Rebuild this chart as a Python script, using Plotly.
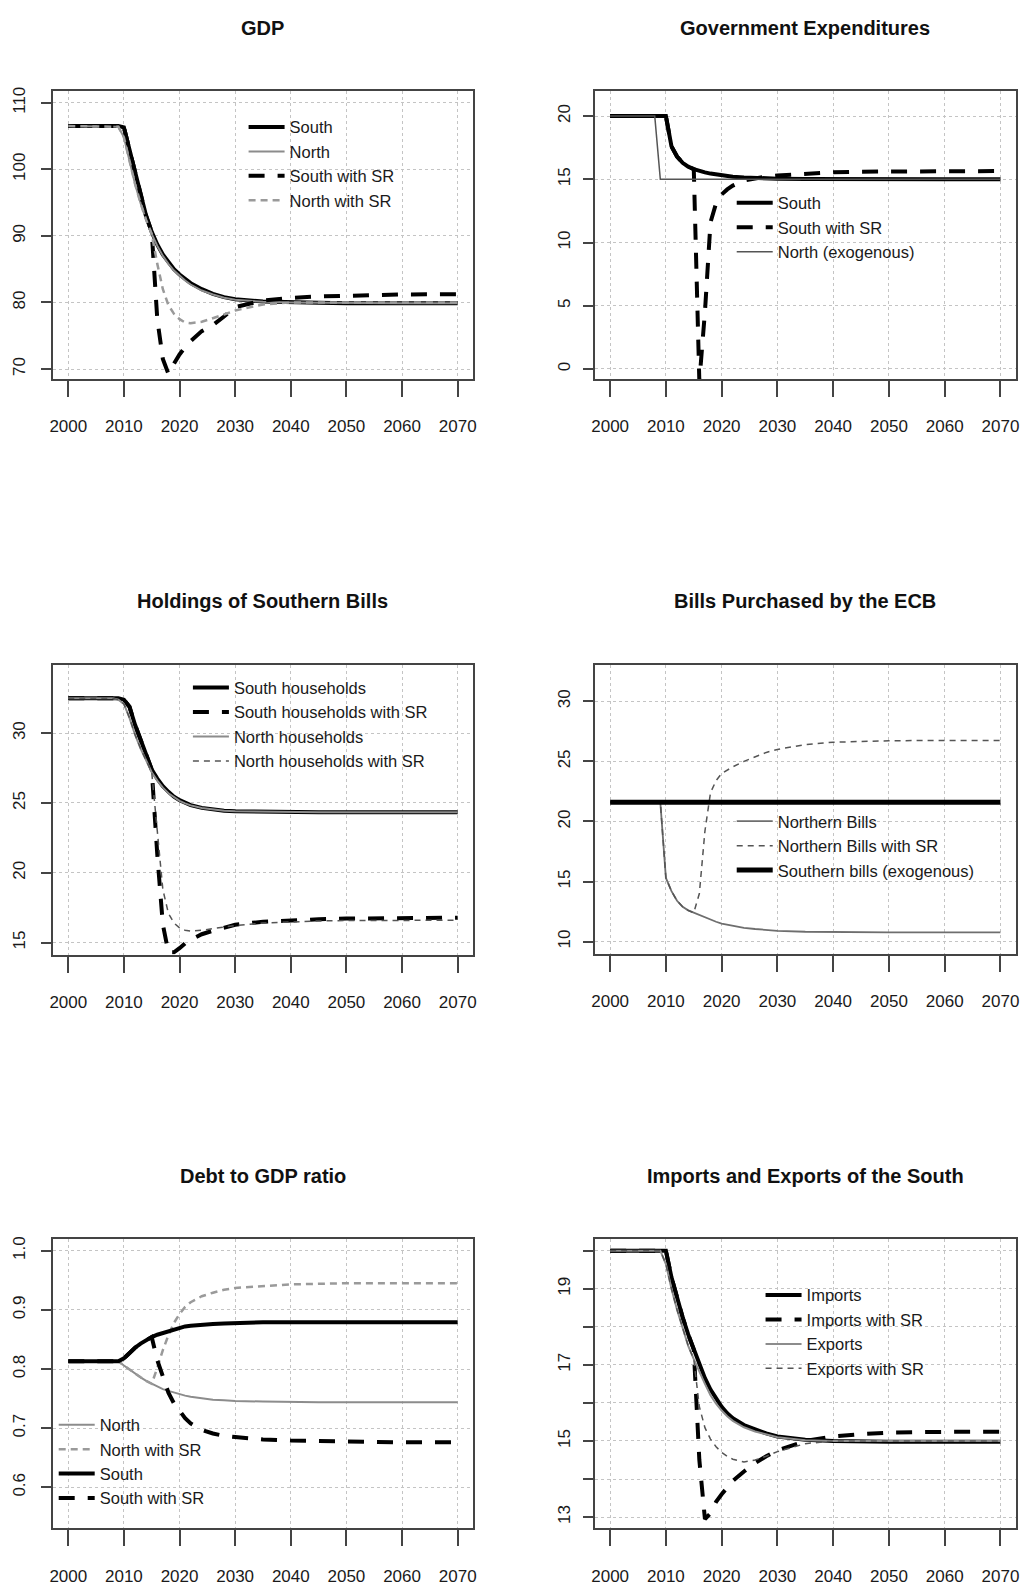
import plotly.graph_objects as go

# ---------------- data ----------------
YEARS = [2000, 2008, 2009, 2010, 2011, 2012, 2013, 2014, 2015, 2016, 2017, 2018, 2019,
         2020, 2021, 2022, 2024, 2026, 2028, 2030, 2035, 2040, 2045, 2050, 2060, 2070]
X_TICKS = [2000, 2010, 2020, 2030, 2040, 2050, 2060, 2070]

# GDP
gdp_south = [106.5, 106.5, 106.5, 106.3, 103.0, 99.2, 95.8, 93.0, 90.6, 88.7, 87.2, 86.0, 85.0,
             84.2, 83.5, 82.9, 82.0, 81.3, 80.8, 80.5, 80.15, 80.0, 79.95, 79.9, 79.9, 79.9]
gdp_north = [106.5, 106.5, 106.4, 104.8, 101.2, 97.8, 94.9, 92.4, 90.3, 88.5, 87.0, 85.8, 84.8,
             84.0, 83.3, 82.7, 81.8, 81.2, 80.7, 80.4, 80.1, 80.0, 79.95, 79.9, 79.9, 79.9]
gdp_south_sr = [106.5, 106.5, 106.5, 106.3, 103.0, 99.2, 95.8, 93.0, 90.6, 77.5, 71.5, 69.3, 70.8,
                72.2, 73.3, 74.2, 75.7, 76.6, 77.9, 79.3, 80.3, 80.7, 80.9, 81.05, 81.2, 81.25]
gdp_north_sr = [106.5, 106.5, 106.4, 104.8, 101.2, 97.8, 94.9, 92.4, 90.3, 85.8, 82.0, 79.6, 78.3,
                77.5, 77.0, 76.9, 77.1, 77.6, 78.2, 78.8, 79.7, 80.0, 80.0, 80.0, 80.0, 80.0]
gdp_ticks = [70, 80, 90, 100, 110]

# Government expenditures
gov_south = [20, 20, 20, 20, 17.6, 16.8, 16.3, 16.0, 15.8, 15.65, 15.55, 15.45, 15.37,
             15.3, 15.25, 15.2, 15.14, 15.1, 15.07, 15.05, 15.02, 15.0, 15.0, 15.0, 15.0, 15.0]
gov_south_sr = [20, 20, 20, 20, 17.6, 16.8, 16.3, 16.0, 15.8, -1.0, 4.5, 11.6, 13.1,
                13.8, 14.2, 14.5, 14.9, 15.1, 15.22, 15.3, 15.45, 15.55, 15.6, 15.62, 15.65, 15.65]
gov_north = [20, 20, 15, 15, 15, 15, 15, 15, 15, 15, 15, 15, 15,
             15, 15, 15, 15, 15, 15, 15, 15, 15, 15, 15, 15, 15]
gov_ticks = [0, 5, 10, 15, 20]

# Holdings of southern bills
hold_south = [32.5, 32.5, 32.5, 32.4, 31.9, 30.6, 29.5, 28.4, 27.4, 26.75, 26.2, 25.8, 25.45,
              25.2, 25.0, 24.85, 24.65, 24.52, 24.45, 24.4, 24.36, 24.34, 24.33, 24.33, 24.33, 24.33]
hold_south_sr = [32.5, 32.5, 32.5, 32.4, 31.9, 30.6, 29.5, 28.4, 27.4, 21.3, 16.3, 14.3, 14.3,
                 14.6, 14.95, 15.2, 15.6, 15.85, 16.1, 16.28, 16.5, 16.6, 16.67, 16.72, 16.76, 16.78]
hold_north = [32.5, 32.5, 32.4, 32.1, 31.1, 29.9, 28.9, 28.0, 27.2, 26.6, 26.1, 25.7, 25.4,
              25.15, 24.97, 24.83, 24.64, 24.52, 24.45, 24.4, 24.36, 24.34, 24.33, 24.33, 24.33, 24.33]
hold_north_sr = [32.5, 32.5, 32.4, 32.1, 31.1, 29.9, 28.9, 28.0, 27.2, 23.0, 18.8, 17.1, 16.4,
                 16.05, 15.88, 15.82, 15.88, 16.0, 16.12, 16.22, 16.4, 16.5, 16.55, 16.58, 16.6, 16.6]
hold_ticks = [15, 20, 25, 30]

# Bills purchased by the ECB
ecb_north = [21.6, 21.6, 21.6, 15.3, 14.2, 13.4, 12.9, 12.6, 12.4, 12.2, 12.0, 11.8, 11.65,
             11.5, 11.4, 11.3, 11.15, 11.05, 10.97, 10.9, 10.82, 10.79, 10.78, 10.77, 10.77, 10.77]
ecb_north_sr = [21.6, 21.6, 21.6, 15.3, 14.2, 13.4, 12.9, 12.6, 12.4, 14.0, 19.2, 22.4, 23.4,
                24.0, 24.3, 24.55, 25.0, 25.4, 25.75, 26.0, 26.4, 26.6, 26.68, 26.72, 26.75, 26.75]
ecb_south = [21.6] * len(YEARS)
ecb_ticks = [10, 15, 20, 25, 30]

# Debt to GDP ratio
debt_north = [0.813, 0.813, 0.813, 0.806, 0.799, 0.792, 0.786, 0.780, 0.775, 0.770, 0.766, 0.763, 0.760,
              0.757, 0.755, 0.753, 0.750, 0.748, 0.747, 0.746, 0.745, 0.744, 0.744, 0.744, 0.744, 0.744]
debt_north_sr = [0.813, 0.813, 0.813, 0.806, 0.799, 0.792, 0.786, 0.780, 0.775, 0.802, 0.832, 0.857, 0.878,
                 0.893, 0.905, 0.913, 0.923, 0.929, 0.934, 0.937, 0.940, 0.943, 0.944, 0.945, 0.945, 0.945]
debt_south = [0.813, 0.813, 0.813, 0.818, 0.828, 0.836, 0.843, 0.849, 0.854, 0.858, 0.861, 0.864, 0.867,
              0.870, 0.872, 0.873, 0.875, 0.876, 0.877, 0.878, 0.879, 0.879, 0.879, 0.879, 0.879, 0.879]
debt_south_sr = [0.813, 0.813, 0.813, 0.818, 0.828, 0.836, 0.843, 0.849, 0.854, 0.815, 0.785, 0.760, 0.742,
                 0.728, 0.717, 0.708, 0.697, 0.691, 0.687, 0.685, 0.681, 0.679, 0.678, 0.677, 0.676, 0.676]
debt_ticks = [0.6, 0.7, 0.8, 0.9, 1.0]
debt_ticktext = ["0.6", "0.7", "0.8", "0.9", "1.0"]

# Imports and exports of the South
imports = [20, 20, 20, 20, 19.3, 18.75, 18.25, 17.8, 17.4, 17.0, 16.65, 16.35, 16.1,
           15.9, 15.73, 15.6, 15.42, 15.3, 15.2, 15.12, 15.03, 15.0, 14.98, 14.98, 14.98, 14.98]
imports_sr = [20, 20, 20, 20, 19.3, 18.75, 18.25, 17.8, 17.4, 14.5, 12.95, 13.1, 13.4,
              13.6, 13.78, 13.95, 14.2, 14.42, 14.6, 14.75, 15.0, 15.12, 15.18, 15.22, 15.24, 15.24]
exports = [20, 20, 20, 19.65, 19.0, 18.45, 17.95, 17.5, 17.15, 16.8, 16.5, 16.2, 15.98,
           15.8, 15.65, 15.53, 15.36, 15.25, 15.17, 15.1, 15.02, 15.0, 15.0, 15.0, 15.0, 15.0]
exports_sr = [20, 20, 20, 19.65, 19.0, 18.45, 17.95, 17.5, 17.15, 15.9, 15.35, 15.05, 14.85,
              14.7, 14.6, 14.52, 14.45, 14.5, 14.6, 14.72, 14.93, 15.0, 15.0, 15.0, 15.0, 15.0]
imp_ticks = [13, 14, 15, 16, 17, 18, 19, 20]
imp_ticktext = ["13", "", "15", "", "17", "", "19", ""]

TITLES = ["GDP", "Government Expenditures", "Holdings of Southern Bills",
          "Bills Purchased by the ECB", "Debt to GDP ratio", "Imports and Exports of the South"]

# ---------------- styles ----------------
W, H = 1028, 1589
FONT = "Liberation Sans, Arial, sans-serif"

THICK = dict(color="#000000", width=4)
THICK_DASH = dict(color="#000000", width=4, dash="16px,13px")
GRAY = dict(color="#8c8c8c", width=2)
GRAY_DASH = dict(color="#9a9a9a", width=2.5, dash="7px,5px")
THIN = dict(color="#555555", width=1.5)
THIN_DASH = dict(color="#555555", width=1.5, dash="6px,5px")

def px_x(a, b):
    return [a / W, b / W]

def px_y(top, bottom):
    return [1 - bottom / H, 1 - top / H]

panels = [
    dict(xd=(50, 473), yd=(87, 376), yr=[68.5, 111.8], yt=gdp_ticks, ytt=[str(v) for v in gdp_ticks],
         leg=(242, 106), title_y=24, ysoff=9),
    dict(xd=(595, 1019), yd=(87, 376), yr=[-0.8, 22.0], yt=gov_ticks, ytt=[str(v) for v in gov_ticks],
         leg=(733, 182), title_y=24, ysoff=6),
    dict(xd=(50, 473), yd=(663, 953), yr=[14.14, 34.86], yt=hold_ticks, ytt=[str(v) for v in hold_ticks],
         leg=(186, 668), title_y=599, ysoff=9),
    dict(xd=(595, 1019), yd=(663, 952), yr=[9.0, 33.0], yt=ecb_ticks, ytt=[str(v) for v in ecb_ticks],
         leg=(733, 802), title_y=599, ysoff=6),
    dict(xd=(50, 473), yd=(1238, 1528), yr=[0.531, 1.020], yt=debt_ticks, ytt=debt_ticktext,
         leg=(51, 1407), title_y=1175, ysoff=9),
    dict(xd=(595, 1019), yd=(1238, 1528), yr=[12.71, 20.31], yt=imp_ticks, ytt=imp_ticktext,
         leg=(762, 1277), title_y=1175, ysoff=6),
]

series = [
    [("South", gdp_south, THICK), ("North", gdp_north, GRAY),
     ("South with SR", gdp_south_sr, THICK_DASH), ("North with SR", gdp_north_sr, GRAY_DASH)],
    [("South", gov_south, THICK), ("South with SR", gov_south_sr, THICK_DASH),
     ("North (exogenous)", gov_north, THIN)],
    [("South households", hold_south, THICK), ("South households with SR", hold_south_sr, THICK_DASH),
     ("North households", hold_north, GRAY), ("North households with SR", hold_north_sr, THIN_DASH)],
    [("Northern Bills", ecb_north, dict(color="#6e6e6e", width=1.8)),
     ("Northern Bills with SR", ecb_north_sr, THIN_DASH),
     ("Southern bills (exogenous)", ecb_south, dict(color="#000000", width=5))],
    [("North", debt_north, GRAY), ("North with SR", debt_north_sr, GRAY_DASH),
     ("South", debt_south, THICK), ("South with SR", debt_south_sr, THICK_DASH)],
    [("Imports", imports, THICK), ("Imports with SR", imports_sr, THICK_DASH),
     ("Exports", exports, GRAY), ("Exports with SR", exports_sr, THIN_DASH)],
]

fig = go.Figure()
layout = dict(
    width=W, height=H, margin=dict(l=0, r=0, t=0, b=0),
    paper_bgcolor="white", plot_bgcolor="white", showlegend=True,
    annotations=[],
)

for i, (p, ser) in enumerate(zip(panels, series)):
    n = i + 1
    xname = "xaxis" if n == 1 else f"xaxis{n}"
    yname = "yaxis" if n == 1 else f"yaxis{n}"
    xref = "x" if n == 1 else f"x{n}"
    yref = "y" if n == 1 else f"y{n}"
    legname = "legend" if n == 1 else f"legend{n}"
    for name, vals, style in ser:
        fig.add_trace(go.Scatter(x=YEARS, y=vals, mode="lines", name=name, line=style,
                                 xaxis=xref, yaxis=yref, legend=legname, hoverinfo="skip"))
    layout[xname] = dict(
        domain=px_x(*p["xd"]), anchor=yref, range=[1997.2, 2072.8],
        tickvals=X_TICKS, ticktext=[str(v) for v in X_TICKS],
        ticks="outside", ticklen=16, tickwidth=2, tickcolor="#444444",
        showline=True, mirror=True, linecolor="#444444", linewidth=2,
        showgrid=True, gridcolor="#c4c4c4", griddash="dot", gridwidth=1,
        zeroline=False, tickfont=dict(family=FONT, size=17, color="#1a1a1a"),
        ticklabelstandoff=15,
    )
    layout[yname] = dict(
        domain=px_y(*p["yd"]), anchor=xref, range=p["yr"],
        tickvals=p["yt"], ticktext=p["ytt"], tickangle=-90,
        ticks="outside", ticklen=10, tickwidth=2, tickcolor="#444444",
        showline=True, mirror=True, linecolor="#444444", linewidth=2,
        showgrid=True, gridcolor="#c4c4c4", griddash="dot", gridwidth=1,
        zeroline=False, tickfont=dict(family=FONT, size=17, color="#1a1a1a"),
        ticklabelstandoff=p["ysoff"],
    )
    lx, ly = p["leg"]
    layout[legname] = dict(
        x=lx / W, y=1 - ly / H, xanchor="left", yanchor="top",
        bgcolor="rgba(0,0,0,0)", borderwidth=0, tracegroupgap=0,
        font=dict(family=FONT, size=16.5, color="#1a1a1a"), itemwidth=36,
    )
    cx = (p["xd"][0] + p["xd"][1]) / 2
    layout["annotations"].append(dict(
        text=f"<b>{TITLES[i]}</b>", x=cx / W, y=1 - p["title_y"] / H, xref="paper", yref="paper",
        xanchor="center", yanchor="middle", showarrow=False,
        font=dict(family=FONT, size=20, color="#111111"),
    ))

fig.update_layout(**layout)
fig.write_html("out.html")
